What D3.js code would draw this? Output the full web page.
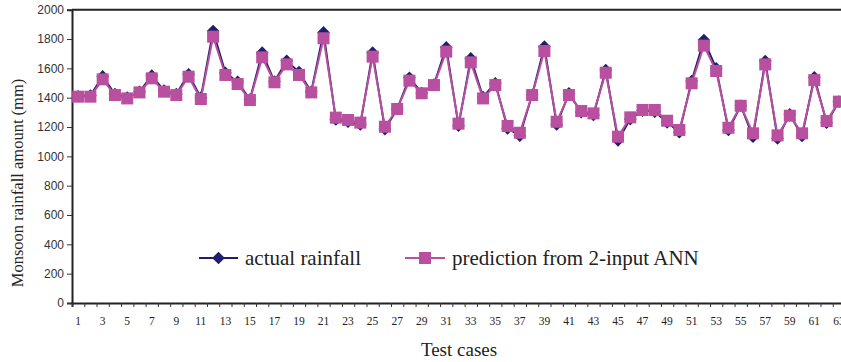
<!DOCTYPE html>
<html>
<head>
<meta charset="utf-8">
<script src="https://cdn.jsdelivr.net/npm/d3@7"></script>
<style>
  html, body { margin: 0; padding: 0; background: #fff; }
  svg { display: block; }
</style>
</head>
<body>
<svg id="chart" width="841" height="362"></svg>
<script>
// Test cases 1..63
const cases = d3.range(1, 64);

// Observed monsoon rainfall (mm)
const actualRainfall = [
  1410, 1415, 1545, 1425, 1400, 1440, 1550, 1448, 1425, 1560,
  1400, 1855, 1570, 1508, 1388, 1707, 1510, 1652, 1575, 1440,
  1845, 1252, 1236, 1218, 1707, 1186, 1322, 1536, 1432, 1490,
  1743, 1209, 1668, 1405, 1498, 1191, 1141, 1420, 1748, 1218,
  1430, 1302, 1282, 1589, 1109, 1254, 1312, 1305, 1232, 1164,
  1514, 1793, 1600, 1180, 1345, 1134, 1650, 1123, 1286, 1139,
  1539, 1229, 1373
];

// Output of the 2-input ANN (mm)
const predictedRainfall = [
  1407, 1407, 1525, 1418, 1395, 1436, 1532, 1441, 1418, 1543,
  1391, 1816, 1555, 1493, 1384, 1675, 1505, 1627, 1555, 1436,
  1805, 1264, 1248, 1230, 1680, 1202, 1323, 1516, 1430, 1486,
  1714, 1223, 1641, 1395, 1486, 1207, 1161, 1418, 1718, 1236,
  1418, 1309, 1293, 1570, 1134, 1266, 1316, 1316, 1243, 1180,
  1498, 1755, 1582, 1195, 1345, 1157, 1627, 1143, 1277, 1157,
  1520, 1241, 1373
];

const yTicks = d3.range(0, 2001, 200);
const xTickLabels = cases.filter(c => c % 2 === 1);

const colActual = "#1f1f6b";
const colPred = "#b9509f";
const serif = "'Liberation Serif', 'Times New Roman', Times, serif";

const svg = d3.select("#chart");

const step = 12.27;
const x = d3.scaleLinear().domain([0.5, 63.5]).range([72, 72 + 63 * step]);
const y = d3.scaleLinear().domain([0, 2000]).range([303, 9.7]);

// plot-area top border
svg.append("line")
  .attr("x1", x(0.5)).attr("x2", 841)
  .attr("y1", y(2000)).attr("y2", y(2000))
  .attr("stroke", "#222").attr("stroke-width", 2);

// y axis
const yAxis = svg.append("g")
  .attr("transform", `translate(${x(0.5)},0)`)
  .call(d3.axisLeft(y).tickValues(yTicks).tickSize(5).tickPadding(3).tickFormat(d3.format("d")));
yAxis.select(".domain").attr("stroke", "#222").attr("stroke-width", 2);
yAxis.selectAll(".tick line").attr("stroke", "#333");
yAxis.selectAll(".tick text")
  .attr("font-family", "'Liberation Sans', Arial, sans-serif")
  .attr("font-size", 12).attr("fill", "#333");

// x axis: ticks on category boundaries, labels on every other case
const xAxis = svg.append("g")
  .attr("transform", `translate(0,${y(0)})`)
  .call(d3.axisBottom(x).tickValues(d3.range(0.5, 64, 1)).tickSize(4).tickFormat(""));
xAxis.select(".domain").attr("stroke", "#222").attr("stroke-width", 2);
xAxis.selectAll(".tick line").attr("stroke", "#333");

svg.append("g").selectAll("text")
  .data(xTickLabels)
  .join("text")
  .attr("x", d => x(d))
  .attr("y", 325)
  .attr("text-anchor", "middle")
  .attr("font-family", serif)
  .attr("font-size", 11.5)
  .attr("fill", "#222")
  .text(d => d);

// axis titles
svg.append("text")
  .attr("transform", `translate(23,183) rotate(-90)`)
  .attr("text-anchor", "middle")
  .attr("font-family", serif)
  .attr("font-size", 16.5).attr("fill", "#222")
  .text("Monsoon rainfall amount (mm)");

svg.append("text")
  .attr("x", 459).attr("y", 356)
  .attr("text-anchor", "middle")
  .attr("font-family", serif)
  .attr("font-size", 19).attr("fill", "#222")
  .text("Test cases");

// series
const line = d3.line().x((d, i) => x(cases[i])).y(d => y(d));
// diamond = square turned 45°
const diamond = d3.symbol().type(d3.symbolSquare).size(80);

svg.append("path").datum(actualRainfall)
  .attr("d", line).attr("fill", "none")
  .attr("stroke", colActual).attr("stroke-width", 2);
svg.append("g").selectAll("path")
  .data(actualRainfall)
  .join("path")
  .attr("d", diamond)
  .attr("transform", (d, i) => `translate(${x(cases[i])},${y(d)}) rotate(45)`)
  .attr("fill", colActual);

svg.append("path").datum(predictedRainfall)
  .attr("d", line).attr("fill", "none")
  .attr("stroke", colPred).attr("stroke-width", 2);
const sq = 12;
svg.append("g").selectAll("rect")
  .data(predictedRainfall)
  .join("rect")
  .attr("x", (d, i) => x(cases[i]) - sq / 2)
  .attr("y", d => y(d) - sq / 2)
  .attr("width", sq).attr("height", sq)
  .attr("fill", colPred);

// legend
const legY = 258;
const leg = svg.append("g");
leg.append("line").attr("x1", 199).attr("x2", 238).attr("y1", legY).attr("y2", legY)
  .attr("stroke", colActual).attr("stroke-width", 2);
leg.append("path").attr("d", diamond).attr("transform", `translate(218.5,${legY}) rotate(45)`).attr("fill", colActual);
leg.append("text").attr("x", 245).attr("y", legY + 7)
  .attr("font-family", serif)
  .attr("font-size", 21).attr("fill", "#222")
  .text("actual rainfall");

leg.append("line").attr("x1", 405).attr("x2", 445).attr("y1", legY).attr("y2", legY)
  .attr("stroke", colPred).attr("stroke-width", 2);
leg.append("rect").attr("x", 425 - sq / 2).attr("y", legY - sq / 2)
  .attr("width", sq).attr("height", sq).attr("fill", colPred);
leg.append("text").attr("x", 452).attr("y", legY + 7)
  .attr("font-family", serif)
  .attr("font-size", 21).attr("fill", "#222")
  .text("prediction from 2-input ANN");
</script>
</body>
</html>
